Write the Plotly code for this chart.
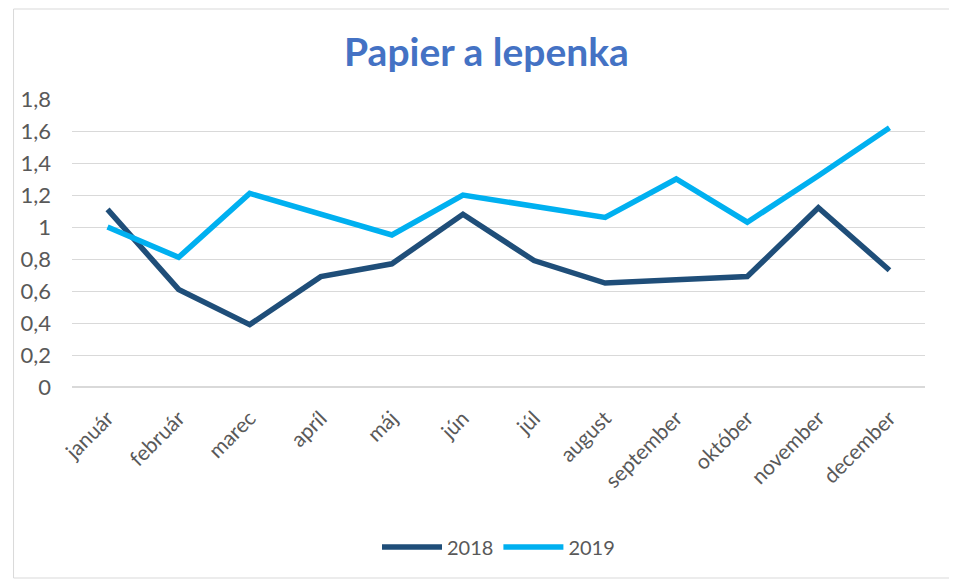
import plotly.graph_objects as go

months = ["január", "február", "marec", "apríl", "máj", "jún", "júl", "august",
          "september", "október", "november", "december"]
y2018 = [1.11, 0.61, 0.39, 0.69, 0.77, 1.08, 0.79, 0.65, 0.67, 0.69, 1.12, 0.73]
y2019 = [1.00, 0.81, 1.21, 1.08, 0.95, 1.20, 1.13, 1.06, 1.30, 1.03, 1.32, 1.62]
yticks = [0, 0.2, 0.4, 0.6, 0.8, 1.0, 1.2, 1.4, 1.6, 1.8]
yticklabels = ["0", "0,2", "0,4", "0,6", "0,8", "1", "1,2", "1,4", "1,6", "1,8"]

FONT = "Lato"
# plot area in figure pixels (page adds an 8px body offset)
L, R, T, B = 56, 917, 91, 379
PW, PH = R - L, B - T

fig = go.Figure()
fig.add_trace(go.Scatter(x=months, y=y2018, mode="lines", name="2018",
                         line=dict(color="#1F4E79", width=5.5)))
fig.add_trace(go.Scatter(x=months, y=y2019, mode="lines", name="2019",
                         line=dict(color="#00B0F0", width=5.5)))

fig.update_layout(
    width=957, height=581,
    margin=dict(l=L, r=957 - R, t=T, b=581 - B),
    paper_bgcolor="white", plot_bgcolor="white",
    font=dict(family=FONT, color="#595959", size=21),
    title=dict(text="<b>Papier a lepenka</b>", x=0.5, xanchor="center",
               y=1 - 44 / 581, yanchor="middle",
               font=dict(family=FONT, size=39, color="#4472C4")),
    showlegend=True,
    legend=dict(orientation="h", x=0.5, xanchor="center",
                y=(B - 539) / PH, yanchor="middle",
                font=dict(size=20, color="#595959"), itemwidth=60),
    xaxis=dict(type="category", tickangle=-45, showgrid=False, showline=False,
               ticks="", tickfont=dict(size=21, color="#595959"),
               ticklabelstandoff=14, range=[-0.5, 11.5]),
    yaxis=dict(range=[0, 1.8], tickvals=yticks, ticktext=yticklabels,
               showgrid=True, gridcolor="#D9D9D9", gridwidth=1,
               zeroline=True, zerolinecolor="#D9D9D9", zerolinewidth=1.5,
               showline=False, ticks="", ticklabelstandoff=20,
               tickfont=dict(size=22, color="#595959")),
    shapes=[dict(type="rect", xref="paper", yref="paper",
                 x0=(-3 - L) / PW, x1=(944 - L) / PW,
                 y0=(B - 570) / PH, y1=(B - 1) / PH,
                 line=dict(color="#D9D9D9", width=1), fillcolor="rgba(0,0,0,0)",
                 layer="below")],
)

fig.write_html("out.html")
